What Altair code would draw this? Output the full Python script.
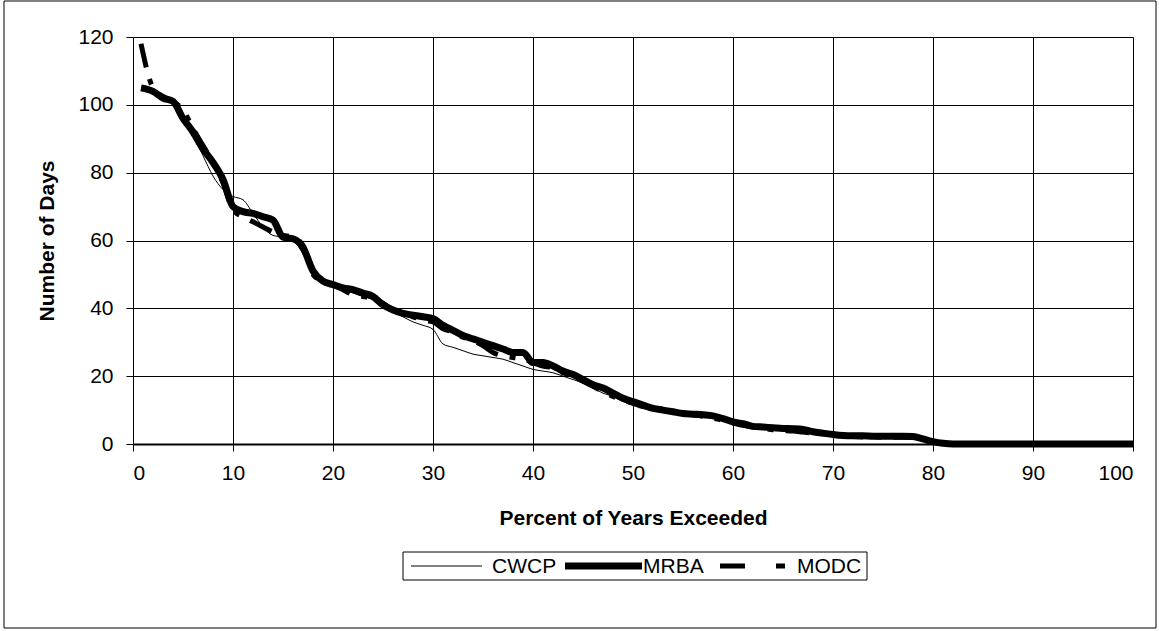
import altair as alt
import pandas as pd

# Percent of years exceeded (x positions of the points)
pct = [0.8, 2, 3, 4, 5, 6, 7, 8, 9, 10,
       11, 12, 13, 14, 15, 16, 17, 18, 19, 20,
       21, 22, 23, 24, 25, 26, 27, 28, 29, 30,
       31, 32, 33, 34, 35, 36, 37, 38, 39, 40,
       41, 42, 43, 44, 45, 46, 47, 48, 49, 50,
       51, 52, 53, 54, 55, 56, 57, 58, 59, 60,
       61, 62, 63, 64, 65, 66, 67, 68, 69, 70,
       71, 72, 73, 74, 75, 76, 77, 78, 79, 80,
       81, 82, 90, 100]

cwcp = [105, 104, 102, 100.5, 96, 91, 85, 79, 75, 73,
        72, 68, 64, 61.5, 61, 60, 56, 50, 48, 47,
        46, 44.5, 43.5, 42.5, 40.5, 39, 37.5, 36, 35, 33.8,
        29.5, 28.5, 27.5, 26.5, 26, 25.5, 25, 24, 23, 22,
        21.5, 21, 20, 19, 18, 16.5, 15, 14, 12.5, 11.5,
        11, 10, 9.5, 9, 8.6, 8.3, 8, 7.5, 6.8, 6,
        5.3, 4.8, 4.5, 4.2, 4, 3.7, 3.4, 3, 2.8, 2.6,
        2.3, 2.1, 2, 2, 1.9, 1.9, 1.8, 1.8, 0.8, 0.3,
        0, 0, 0, 0]

mrba = [105, 104, 102, 101, 96, 92, 87, 83, 78, 70,
        68.5, 68, 67, 66, 61, 60.5, 58, 51, 48, 47,
        46, 45.5, 44.5, 43.5, 41, 39.5, 38.5, 38, 37.5, 37,
        35, 33.5, 32, 31, 30, 29, 28, 27, 27, 24,
        24, 23, 21.5, 20.5, 19, 17.5, 16.5, 15, 13.5, 12.5,
        11.5, 10.5, 10, 9.5, 9, 8.8, 8.6, 8.3, 7.5, 6.5,
        6, 5.2, 5, 4.8, 4.6, 4.5, 4.3, 3.6, 3.2, 2.8,
        2.5, 2.4, 2.4, 2.3, 2.3, 2.3, 2.3, 2.2, 1.5, 0.7,
        0.2, 0, 0, 0]

modc = [118, 105, 102.5, 101, 98.5, 93, 88, 83, 77, 69,
        67, 65.5, 64, 62.5, 61.5, 61, 58.5, 50, 48, 47,
        45.5, 44, 43.5, 43, 41.5, 39.5, 38.5, 37.5, 36.5, 36,
        34, 33, 31.5, 30.5, 29, 27, 26, 25.5, 25, 24,
        23, 22.5, 21, 20, 18.5, 17, 15.5, 14, 13, 12,
        11, 10.5, 10, 9.3, 9, 8.6, 8.2, 7.6, 7, 6.2,
        5.5, 5, 4.6, 4.2, 4, 3.8, 3.5, 3.2, 3, 2.8,
        2.5, 2.2, 2.1, 2.1, 2, 2, 2, 2, 1.3, 0.7,
        0.2, 0, 0, 0]

series_names = ["CWCP", "MRBA", "MODC"]
x_ticks = [0, 10, 20, 30, 40, 50, 60, 70, 80, 90, 100]
y_ticks = [0, 20, 40, 60, 80, 100, 120]

FONT = "Liberation Sans"
W, H = 1000, 407
LEFT, TOP = 133, 37

df = pd.DataFrame({"pct": pct, "CWCP": cwcp, "MRBA": mrba, "MODC": modc})
long = df.melt(id_vars="pct", var_name="series", value_name="days")

xenc = alt.X("pct:Q", scale=alt.Scale(domain=[0, 100], nice=False),
             axis=alt.Axis(values=x_ticks, title="Percent of Years Exceeded",
                           labelPadding=11, tickSize=7, domainWidth=2,
                           titleY=80, titleBaseline="alphabetic"))
yenc = alt.Y("days:Q", scale=alt.Scale(domain=[0, 120], nice=False),
             axis=alt.Axis(values=y_ticks, title="Number of Days",
                           labelPadding=13, tickSize=7,
                           titleX=-86, titleY=H / 2, titleAngle=270,
                           titleAlign="center", titleBaseline="middle"))

base = alt.Chart(long).encode(x=xenc, y=yenc)

styles = {
    "CWCP": dict(strokeWidth=1),
    "MRBA": dict(strokeWidth=7),
    "MODC": dict(strokeWidth=5, strokeDash=[24, 12, 6, 12]),
}

layers = []
for name in series_names:
    layers.append(
        base.transform_filter(alt.datum.series == name)
        .mark_line(color="black", interpolate="monotone", **styles[name])
        .encode(order="pct:Q")
    )

one = pd.DataFrame({"k": [0]})

# outer frame
frame = alt.Chart(one).mark_rect(filled=False, stroke="black", strokeWidth=1).encode(
    x=alt.value(4 - LEFT), x2=alt.value(1156 - LEFT),
    y=alt.value(1 - TOP), y2=alt.value(628 - TOP))

# legend box
LB_TOP, LB_BOT = 552, 580
lbox = alt.Chart(one).mark_rect(filled=False, stroke="black", strokeWidth=1).encode(
    x=alt.value(403 - LEFT), x2=alt.value(867 - LEFT),
    y=alt.value(LB_TOP - TOP), y2=alt.value(LB_BOT - TOP))

leg_y = (LB_TOP + LB_BOT) / 2 - TOP
leg_sym = [(411, 482), (565, 642), (720, 790)]
leg_txt = [492, 643, 797]
leg_style = [dict(strokeWidth=1), dict(strokeWidth=7),
             dict(strokeWidth=5, strokeDash=[25, 31, 9, 100])]
legend_layers = []
for i, name in enumerate(series_names):
    d = pd.DataFrame({"series": [name]})
    legend_layers.append(
        alt.Chart(d).mark_rule(color="black", **leg_style[i]).encode(
            x=alt.value(leg_sym[i][0] - LEFT), x2=alt.value(leg_sym[i][1] - LEFT),
            y=alt.value(leg_y)))
    legend_layers.append(
        alt.Chart(d).mark_text(align="left", baseline="middle", font=FONT,
                               fontSize=21, color="black").encode(
            x=alt.value(leg_txt[i] - LEFT), y=alt.value(leg_y + 1),
            text="series:N"))

chart = alt.layer(frame, *layers, lbox, *legend_layers).properties(
    width=W, height=H,
    padding={"left": LEFT, "top": TOP, "right": 1159 - LEFT - W, "bottom": 631 - TOP - H},
    autosize=alt.AutoSizeParams(type="none"),
    background="white",
).configure_view(stroke=None).configure_axis(
    labelFont=FONT, titleFont=FONT, labelFontSize=21, titleFontSize=21,
    titleFontWeight="bold", labelColor="black", titleColor="black",
    domainColor="black", tickColor="black", gridColor="black", gridOpacity=1,
    gridWidth=1, domainWidth=1, grid=True,
)

chart.save("out.html", embed_options={"renderer": "svg", "actions": False})
